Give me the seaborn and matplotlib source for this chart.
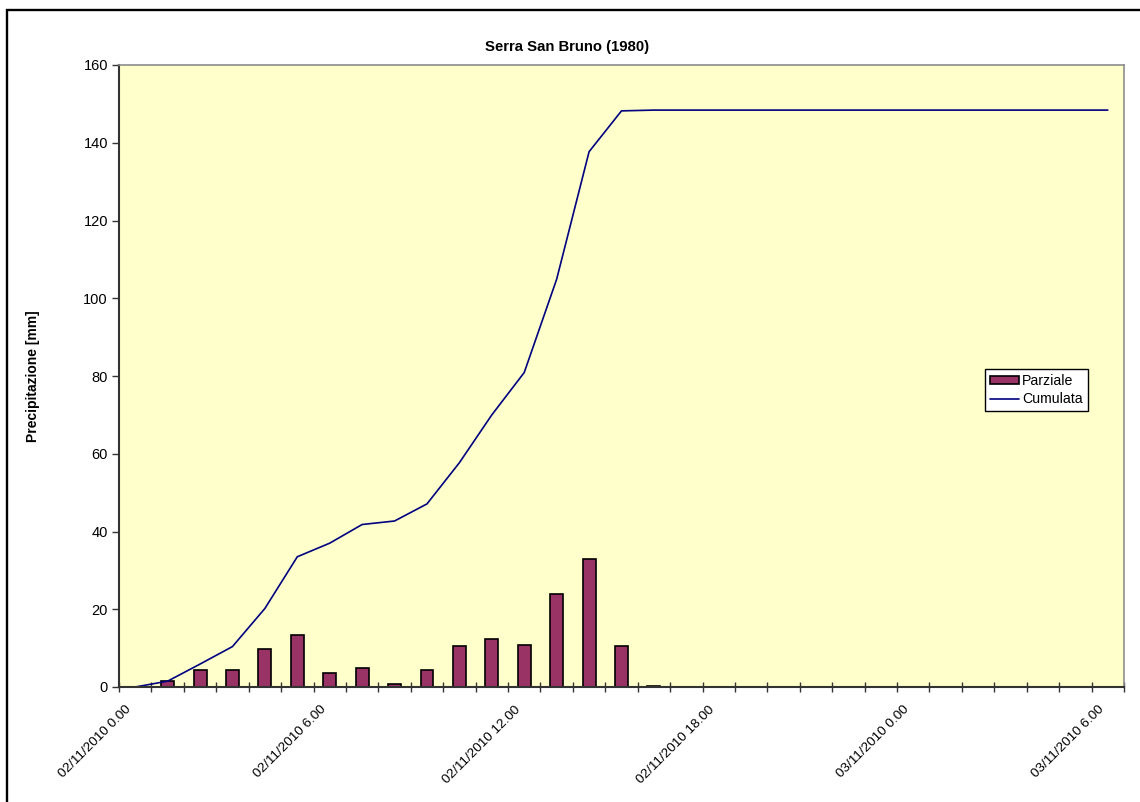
import numpy as np
import pandas as pd
import seaborn as sns
import matplotlib.pyplot as plt
import matplotlib.transforms as mtransforms
from matplotlib.patches import Patch, Rectangle
from matplotlib.lines import Line2D

# hourly rain, 02/11/2010 0.00 -> 03/11/2010 6.00
ore = list(range(31))
parziale = [0.0, 1.5, 4.4, 4.5, 9.8, 13.3, 3.5, 4.8, 0.9, 4.4, 10.6, 12.3, 10.9,
            24.0, 32.8, 10.5, 0.2, 0, 0, 0, 0, 0, 0, 0, 0, 0, 0, 0, 0, 0, 0]
cumulata = [0.0, 1.5, 5.9, 10.4, 20.2, 33.5, 37.0, 41.8, 42.7, 47.1, 57.7, 70.0,
            80.9, 104.9, 137.7, 148.2, 148.4, 148.4, 148.4, 148.4, 148.4, 148.4,
            148.4, 148.4, 148.4, 148.4, 148.4, 148.4, 148.4, 148.4, 148.4]
tick_pos = [0, 6, 12, 18, 24, 30]
tick_labels = ["02/11/2010 0.00", "02/11/2010 6.00", "02/11/2010 12.00",
               "02/11/2010 18.00", "03/11/2010 0.00", "03/11/2010 6.00"]

df = pd.DataFrame({"ora": ore, "parziale": parziale, "cumulata": cumulata})

sns.set_style("white")
plt.rcParams['font.family'] = ['Liberation Sans', 'DejaVu Sans']
plt.rcParams['text.color'] = 'black'
plt.rcParams['xtick.labelcolor'] = 'black'
plt.rcParams['ytick.labelcolor'] = 'black'

fig = plt.figure(figsize=(11.4, 8.02), dpi=100)
ax = fig.add_axes([119 / 1140, 1 - 687 / 802, (1124 - 119) / 1140, (687 - 65) / 802])
ax.set_facecolor('#FFFFCC')

sns.barplot(x='ora', y='parziale', data=df, ax=ax, color='#993366', width=0.4,
            edgecolor='black', linewidth=1.2, saturation=1, zorder=2)
ax.plot(df['ora'], df['cumulata'], color='#000080', linewidth=1.2, zorder=3)

ax.set_xlim(-0.5, 30.5)
ax.set_ylim(0, 160)
ax.set_yticks(range(0, 161, 20))
ax.tick_params(axis='y', direction='out', length=5, width=1, labelsize=10.5,
               left=True, color='#333333', labelcolor='black', pad=3)
ax.set_xticks(tick_pos)
ax.set_xticklabels(tick_labels, rotation=45, ha='right', va='top',
                   rotation_mode='anchor', fontsize=9.7)
ax.set_xticks(np.arange(-0.5, 31, 1), minor=True)
ax.tick_params(axis='x', which='major', length=0, pad=12, labelcolor='black')
ax.tick_params(axis='x', which='minor', direction='inout', length=7, width=1,
               color='#333333', bottom=True)
shift = mtransforms.ScaledTranslation(-10 / 100, 0, fig.dpi_scale_trans)
for lab in ax.get_xticklabels():
    lab.set_transform(lab.get_transform() + shift)
ax.set_xlabel('')
ax.set_ylabel('')

for s in ['left', 'bottom']:
    ax.spines[s].set_color('#333333')
    ax.spines[s].set_linewidth(1.5)
for s in ['top', 'right']:
    ax.spines[s].set_color('#8c8c8c')
    ax.spines[s].set_linewidth(1.2)
for s in ax.spines.values():
    s.set_zorder(4)

handles = [Patch(facecolor='#993366', edgecolor='black', linewidth=1.2),
           Line2D([], [], color='#000080', linewidth=1.2)]
leg = ax.legend(handles, ['Parziale', 'Cumulata'], loc='center',
                bbox_to_anchor=(0.913, 0.4775), fontsize=10.2, frameon=True,
                fancybox=False, edgecolor='black', framealpha=1,
                handlelength=2.0, handleheight=0.45, handletextpad=0.25,
                borderpad=0.35, labelspacing=0.3, borderaxespad=0)
leg.get_frame().set_linewidth(1)
for t in leg.get_texts():
    t.set_color('black')

fig.text(567 / 1140, 1 - 47 / 802, 'Serra San Bruno (1980)', ha='center',
         va='center', fontsize=10.7, fontweight='bold', color='black')
fig.text(33 / 1140, 1 - 376 / 802, 'Precipitazione [mm]', ha='center',
         va='center', rotation=90, fontsize=10, fontweight='bold', color='black')

fig.patches.append(Rectangle((7 / 1140, -0.2), 1.2, 1 - 10 / 802 + 0.2,
                             transform=fig.transFigure, fill=False,
                             edgecolor='black', linewidth=1.7))

fig.savefig('out.png', dpi=100)
